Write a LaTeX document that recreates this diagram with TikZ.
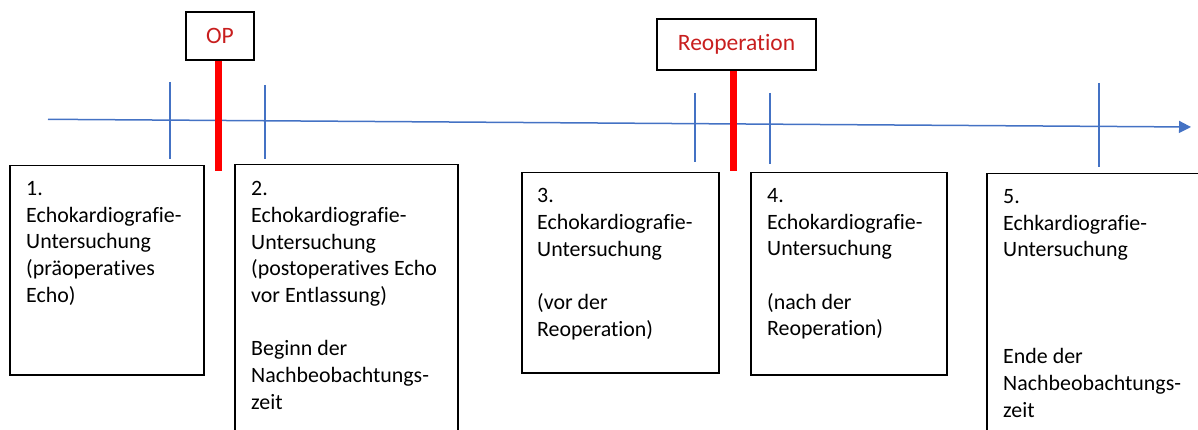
\documentclass[tikz,border=0pt]{standalone}
\usepackage{fontspec}
\setmainfont{Carlito}[Ligatures=NoCommon]
\usetikzlibrary{arrows.meta,positioning}
\definecolor{axisblue}{HTML}{4472C4}
\definecolor{barred}{HTML}{FF0000}
\definecolor{labelred}{HTML}{C81E1E}
\tikzset{
  echobox/.style={draw, line width=1.5pt, anchor=north west, inner sep=0pt},
  echotext/.style={anchor=north west, align=left, inner sep=0pt,
    font=\fontsize{21.9}{26.7}\selectfont},
  eventbox/.style={draw, line width=1.5pt, inner sep=0pt, text=labelred,
    font=\fontsize{23.5}{28}\selectfont},
  redbar/.style={draw=barred, line width=7pt},
  timeaxis/.style={draw=axisblue, line width=1.5pt,
    -{Triangle[length=12pt,width=12pt]}},
  timetick/.style={draw=axisblue, line width=1.2pt}
}
\begin{document}
\begin{tikzpicture}[x=1pt,y=-1pt]
  \useasboundingbox (0,0) rectangle (1198,430);
  % time axis
  \coordinate (tstart) at (48,119.3);
  \coordinate (tend) at (1191,127);
  \draw[timeaxis] (tstart) -- (tend);
  \foreach \tx/\ta/\tb in {170/82/159, 265/85/159, 695/93/162, 770/93/164, 1099/83/167}
    \draw[timetick] (\tx,\ta) -- (\tx,\tb);
  % events
  \node[eventbox, minimum width=68pt, minimum height=48pt] (op) at (220,36) {OP};
  \node[eventbox, minimum width=159pt, minimum height=51pt] (reop) at (736.5,44.5) {Reoperation};
  \coordinate (opend) at (218,171);
  \coordinate (reopend) at (733,171);
  \draw[redbar] (op.south -| opend) -- (opend);
  \draw[redbar] (reop.south -| reopend) -- (reopend);
  % examination boxes
  \node[echobox, minimum width=194pt, minimum height=209pt] (box1) at (9,165) {};
  \node[echobox, minimum width=223pt, minimum height=290pt] (box2) at (234,164) {};
  \node[echobox, minimum width=197pt, minimum height=200pt] (box3) at (521,172) {};
  \node[echobox, minimum width=196pt, minimum height=202pt] (box4) at (750,172) {};
  \node[echobox, minimum width=230pt, minimum height=280pt] (box5) at (986,173) {};
  \node[echotext] (text1) at ([xshift=17pt,yshift=-16.2pt]box1.north west)
    {1.\\Echokardiografie-\\Untersuchung\\(präoperatives\\Echo)};
  \node[echotext] (text2) at ([xshift=17pt,yshift=-17.2pt]box2.north west)
    {2.\\Echokardiografie-\\Untersuchung\\(postoperatives Echo\\vor Entlassung)\\[26.7pt]Beginn der\\Nachbeobachtungs-\\zeit};
  \node[echotext] (text3) at ([xshift=16pt,yshift=-16.2pt]box3.north west)
    {3.\\Echokardiografie-\\Untersuchung\\[26.7pt](vor der\\Reoperation)};
  \node[echotext] (text4) at ([xshift=17pt,yshift=-16.2pt]box4.north west)
    {4.\\Echokardiografie-\\Untersuchung\\[26.7pt](nach der\\Reoperation)};
  \node[echotext] (text5) at ([xshift=17pt,yshift=-16.2pt]box5.north west)
    {5.\\Echkardiografie-\\Untersuchung\\[80.1pt]Ende der\\Nachbeobachtungs-\\zeit};
\end{tikzpicture}
\end{document}
